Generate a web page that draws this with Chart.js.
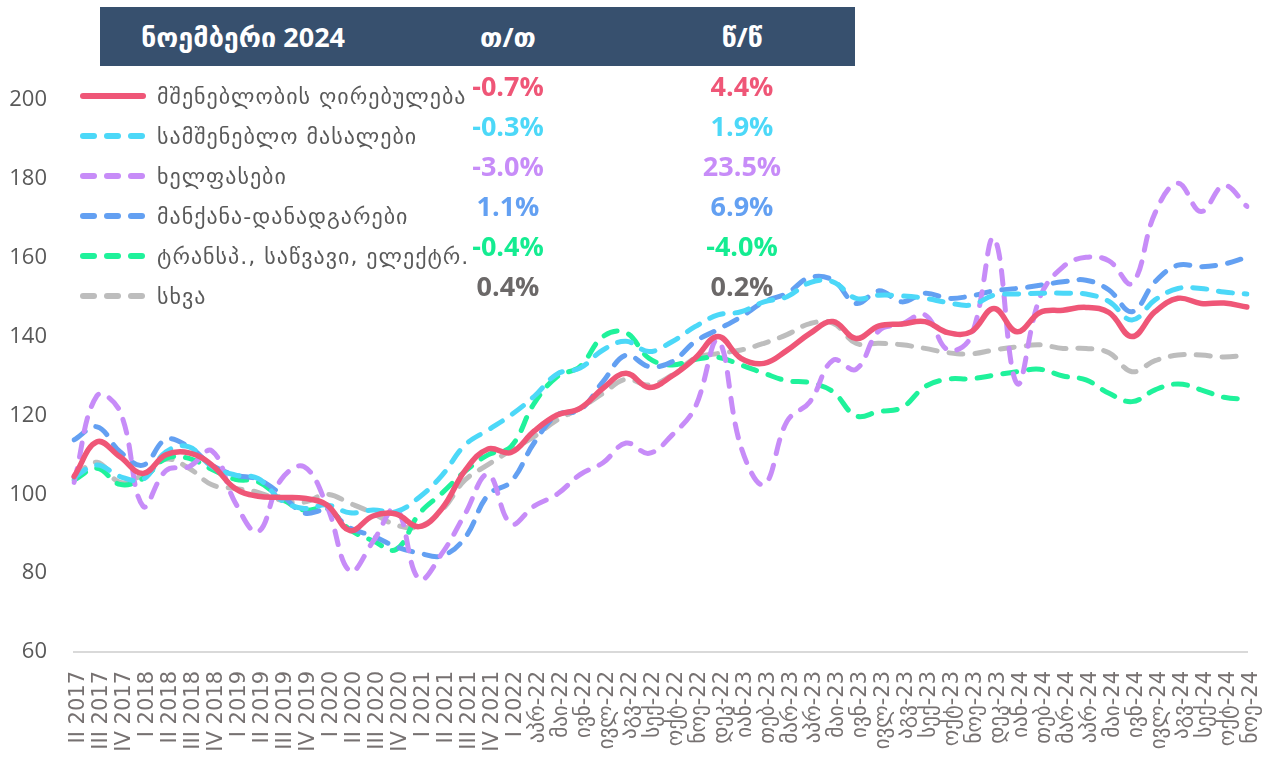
<!DOCTYPE html>
<html>
<head>
<meta charset="utf-8">
<script src="https://cdn.jsdelivr.net/npm/chart.js@4.4.1/dist/chart.umd.min.js"></script>
<style>
  html, body { margin: 0; padding: 0; background: #fff; }
  #wrap { position: relative; width: 1262px; height: 758px; overflow: hidden; }
  #myChart { position: absolute; left: 0; top: 0; }
  .hdr { position: absolute; left: 100px; top: 7px; width: 755px; height: 59px; background: #37506e; }
  .hdr span, .val { position: absolute; transform: translate(-50%, -50%); white-space: nowrap;
    font-family: 'Open Sans', 'DejaVu Sans', sans-serif; font-weight: 700; }
  .hdr span { color: #fff; font-size: 27px; top: 29px; }
  .val { font-size: 27px; }
  .lbl { position: absolute; left: 157px; transform: translateY(-50%); white-space: nowrap;
    font-family: 'DejaVu Sans', sans-serif; font-size: 22px; letter-spacing: 1px; color: #595959; }
  .sample { position: absolute; left: 80px; width: 66px; height: 6px; }
</style>
</head>
<body>
<div id="wrap">
  <canvas id="myChart" width="1262" height="758"></canvas>
  <div class="hdr" id="hdr"></div>
  <div id="legend"></div>
</div>
<script>
// categories
var quarterLabels = ['II 2017', 'III 2017', 'IV 2017', 'I 2018', 'II 2018', 'III 2018', 'IV 2018',
  'I 2019', 'II 2019', 'III 2019', 'IV 2019', 'I 2020', 'II 2020', 'III 2020', 'IV 2020',
  'I 2021', 'II 2021', 'III 2021', 'IV 2021', 'I 2022'];
var monthLabels = ['აპრ-22', 'მაი-22', 'ივნ-22', 'ივლ-22', 'აგვ-22', 'სექ-22', 'ოქტ-22', 'ნოე-22', 'დეკ-22',
  'იან-23', 'თებ-23', 'მარ-23', 'აპრ-23', 'მაი-23', 'ივნ-23', 'ივლ-23', 'აგვ-23', 'სექ-23', 'ოქტ-23', 'ნოე-23', 'დეკ-23',
  'იან-24', 'თებ-24', 'მარ-24', 'აპრ-24', 'მაი-24', 'ივნ-24', 'ივლ-24', 'აგვ-24', 'სექ-24', 'ოქტ-24', 'ნოე-24'];
var labels = quarterLabels.concat(monthLabels);

// series (index values)
var costIndex = [104.5, 113.3, 109.5, 105.3, 110, 110.5, 107.4, 101.5, 99.5, 99.2,
  99, 97.3, 90.8, 94.5, 95, 91.8, 96.4, 106, 111.5, 110.6,
  116, 120.1, 121.8, 126.9, 130.7, 127.1, 130, 134.5, 140, 134.5,
  133.2, 136.5, 140.8, 143.8, 139.5, 142.7, 143.2, 143.8, 141, 141.2,
  147.1, 141.2, 146.1, 146.7, 147.4, 146.1, 140, 146.3, 149.7, 148.4,
  148.5, 147.5];
var materials = [104.3, 107.4, 104.5, 103.8, 110.8, 112, 107, 104.9, 104, 98.6,
  96.4, 97.3, 95.3, 96, 95.6, 99.2, 104.8, 112.5, 116.3, 120.1,
  124.8, 130.5, 132, 136.6, 138.8, 136.2, 138.7, 142.5, 145.5, 146.3,
  148.8, 150.1, 153.7, 153.9, 149.7, 150.5, 150.3, 149.7, 148.6, 148,
  150.5, 150.8, 151, 151, 150.8, 148.9, 144.2, 149.3, 152.2, 152.2,
  151.3, 150.8];
var wages = [103, 125, 121, 97, 106, 107, 111, 98, 90.5, 103.7,
  107, 97, 80.5, 88, 96.4, 78.5, 85, 95, 105, 92.5,
  97, 100, 105, 108, 113, 110.4, 115, 122, 139, 112,
  102.5, 118.5, 123.5, 134, 131.7, 141.5, 143.2, 145.5, 136.6, 140,
  164.9, 128.1, 150, 157.7, 160.1, 159.2, 153.5, 171.3, 178.9, 171.7,
  178.3, 173];
var machinery = [113.8, 117.1, 110.8, 107.4, 113.9, 112, 107.4, 104.9, 103.8, 100,
  95.3, 95.8, 91.5, 89.4, 86.7, 85.1, 84.4, 89, 99.8, 103.2,
  113, 120.1, 121.4, 128.6, 135.3, 132.4, 133.6, 138.7, 141.8, 145,
  148.8, 151, 155, 154.3, 148.4, 151.6, 148.8, 151, 149.7, 150.3,
  151.6, 152.2, 153, 153.9, 154.3, 151.8, 146.3, 153.9, 158.1, 157.7,
  158.4, 160.1];
var transport = [103.6, 106.6, 102.5, 104, 109.1, 109.1, 106.3, 103.8, 103.2, 99,
  96, 96.4, 91, 88.2, 86, 95, 100.3, 105.8, 110, 112.1,
  123, 129.8, 132.4, 140, 141, 134.5, 132.8, 134.2, 134.7, 132.8,
  130.7, 128.8, 128.3, 126, 119.9, 121, 122, 127.3, 129.2, 129.3,
  130.2, 131.1, 131.7, 130, 129, 125.6, 123.5, 126.5, 128, 126.5,
  124.6, 124.1];
var other = [104.5, 108.1, 103, 105, 108.9, 106.6, 102.4, 101.5, 100.5, 98.5,
  98, 100, 97.7, 95.2, 92.2, 91.8, 96, 103.6, 107.5, 111.2,
  114.6, 118.8, 121.8, 125.6, 129.2, 127.7, 130.2, 134.5, 135.7, 136.6,
  138.3, 140.5, 143.3, 143.4, 138.3, 138.3, 137.9, 137, 135.9, 135.6,
  136.6, 137.4, 137.9, 137, 137, 135.9, 131.1, 133.9, 135.3, 135.3,
  134.8, 135.3];

// legend table
var seriesNames = ['მშენებლობის ღირებულება', 'სამშენებლო მასალები', 'ხელფასები',
  'მანქანა-დანადგარები', 'ტრანსპ., საწვავი, ელექტრ.', 'სხვა'];
var momChange = [-0.7, -0.3, -3.0, 1.1, -0.4, 0.4];
var yoyChange = [4.4, 1.9, 23.5, 6.9, -4.0, 0.2];
var headerTexts = ['ნოემბერი 2024', 'თ/თ', 'წ/წ'];
var yTicks = [60, 80, 100, 120, 140, 160, 180, 200];

var seriesData = [costIndex, materials, wages, machinery, transport, other];
var colors = ['#ef5677', '#4cd8f8', '#c78cf8', '#63a0f2', '#1ff29b', '#bdbdbd'];
var valueColors = ['#ef5677', '#4cd8f8', '#c78cf8', '#63a0f2', '#14ec91', '#6b6868'];

// header + legend (HTML)
var hdr = document.getElementById('hdr');
var hdrX = [143, 408, 642];
headerTexts.forEach(function (t, i) {
  var s = document.createElement('span');
  s.textContent = t;
  s.style.left = hdrX[i] + 'px';
  hdr.appendChild(s);
});
var legend = document.getElementById('legend');
seriesNames.forEach(function (name, i) {
  var y = 96 + 40 * i;
  var sample = document.createElement('div');
  sample.className = 'sample';
  sample.style.top = (y - 3) + 'px';
  if (i === 0) {
    sample.style.background = colors[i];
    sample.style.borderRadius = '3px';
  } else {
    for (var k = 0; k < 3; k++) {
      var d = document.createElement('div');
      d.style.cssText = 'position:absolute;top:0;height:6px;width:17px;border-radius:3px;background:' + colors[i] + ';left:' + (k * 24) + 'px';
      sample.appendChild(d);
    }
  }
  legend.appendChild(sample);
  var lbl = document.createElement('div');
  lbl.className = 'lbl';
  lbl.style.top = y + 'px';
  lbl.textContent = name;
  legend.appendChild(lbl);
  [momChange[i], yoyChange[i]].forEach(function (v, j) {
    var el = document.createElement('div');
    el.className = 'val';
    el.textContent = v.toFixed(1) + '%';
    el.style.left = (j === 0 ? 508 : 742) + 'px';
    el.style.top = (y - 11) + 'px';
    el.style.color = valueColors[i];
    legend.appendChild(el);
  });
});

// chart
var ctx = document.getElementById('myChart').getContext('2d');
var datasets = seriesData.map(function (d, i) {
  return {
    label: seriesNames[i],
    data: d,
    borderColor: colors[i],
    borderWidth: i === 0 ? 5.5 : 5,
    borderDash: i === 0 ? [] : [14, 12],
    borderCapStyle: 'round',
    borderJoinStyle: 'round',
    pointRadius: 0,
    tension: 0.4,
    fill: false
  };
});

new Chart(ctx, {
  type: 'line',
  data: { labels: labels, datasets: datasets },
  options: {
    responsive: false,
    devicePixelRatio: 1,
    animation: false,
    layout: { padding: { top: 100, right: 15, bottom: 0, left: 0 } },
    plugins: { legend: { display: false }, tooltip: { enabled: false } },
    scales: {
      x: {
        offset: false,
        grid: { display: false, drawTicks: false },
        border: { display: true, color: '#d9d9d9', width: 2 },
        ticks: {
          autoSkip: false, maxRotation: 90, minRotation: 90, padding: 19, labelOffset: 5,
          color: '#767171', font: { family: "'DejaVu Sans', sans-serif", size: 21 }
        },
        afterFit: function (s) { s.height = 106; s.paddingLeft = 0; s.paddingRight = 0; }
      },
      y: {
        min: 60, max: 200,
        afterBuildTicks: function (s) { s.ticks = yTicks.map(function (v) { return { value: v }; }); },
        grid: { display: false, drawTicks: false },
        border: { display: false },
        ticks: { padding: 27, color: '#595959', font: { family: "'Open Sans', sans-serif", size: 22 } },
        afterFit: function (s) { s.width = 74; s.paddingTop = 0; s.paddingBottom = 0; }
      }
    }
  }
});
</script>
</body>
</html>
